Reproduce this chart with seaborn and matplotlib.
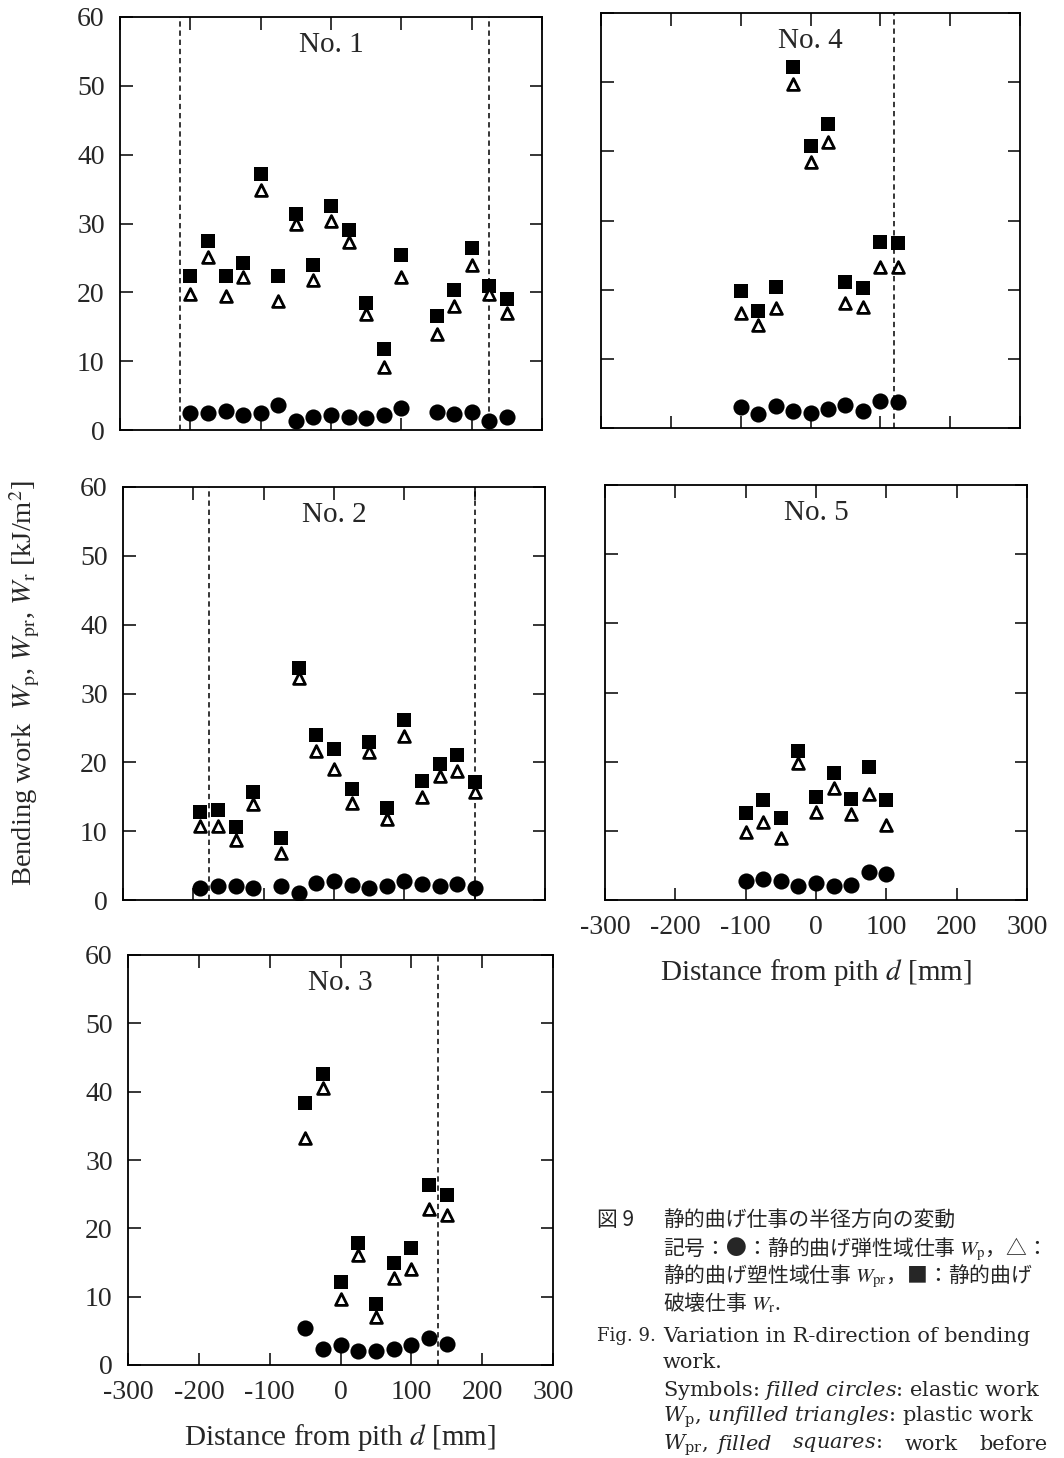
import matplotlib
matplotlib.use("Agg")
import matplotlib.pyplot as plt
import seaborn as sns
import pandas as pd

# ---- Bending work along the radial direction of five logs ----
# d: distance from pith [mm]; Wp: elastic work, Wpr: plastic work, Wr: work before rupture [kJ/m2]
d1 = [-200, -175, -150, -125, -100, -75, -50, -25, 0, 25, 50, 75, 100, 150, 175, 200, 225, 250]
wr1 = [22.4, 27.5, 22.4, 24.2, 37.2, 22.4, 31.4, 23.9, 32.5, 29.1, 18.5, 11.7, 25.4, 16.5, 20.4, 26.5, 20.9, 19.0]
wpr1 = [19.8, 25.2, 19.5, 22.2, 34.8, 18.7, 29.9, 21.8, 30.4, 27.3, 16.8, 9.1, 22.2, 14.0, 18.0, 23.9, 19.7, 17.0]
wp1 = [2.4, 2.4, 2.8, 2.2, 2.4, 3.6, 1.3, 1.9, 2.2, 1.9, 1.8, 2.2, 3.2, 2.6, 2.3, 2.6, 1.3, 1.9]
edge1 = [-214, 225]

d2 = [-190, -165, -140, -115, -75, -50, -25, 0, 25, 50, 75, 100, 125, 150, 175, 200]
wr2 = [12.8, 13.1, 10.6, 15.7, 9.0, 33.7, 23.9, 21.9, 16.1, 23.0, 13.4, 26.1, 17.3, 19.8, 21.0, 17.2]
wpr2 = [10.8, 10.8, 8.7, 13.9, 6.9, 32.3, 21.6, 19.1, 14.1, 21.5, 11.8, 23.8, 14.9, 18.0, 18.8, 15.7]
wp2 = [1.7, 2.0, 2.0, 1.7, 2.0, 1.0, 2.4, 2.8, 2.2, 1.7, 2.0, 2.7, 2.3, 2.0, 2.3, 1.7]
edge2 = [-178, 200]

d3 = [-50, -25, 0, 25, 50, 75, 100, 125, 150]
wr3 = [38.3, 42.6, 12.2, 17.9, 8.9, 15.0, 17.1, 26.3, 24.9]
wpr3 = [33.2, 40.5, 9.6, 16.1, 7.0, 12.7, 14.1, 22.8, 22.0]
wp3 = [5.4, 2.3, 2.9, 2.1, 2.1, 2.4, 2.9, 3.9, 3.1]
edge3 = [137]

d4 = [-100, -75, -50, -25, 0, 25, 50, 75, 100, 125]
wr4 = [19.8, 16.9, 20.4, 52.2, 40.8, 43.9, 21.1, 20.3, 26.9, 26.7]
wpr4 = [16.6, 14.9, 17.4, 49.8, 38.4, 41.3, 18.1, 17.5, 23.3, 23.3]
wp4 = [3.0, 2.0, 3.2, 2.5, 2.2, 2.7, 3.3, 2.5, 3.9, 3.7]
edge4 = [120]

d5 = [-100, -75, -50, -25, 0, 25, 50, 75, 100]
wr5 = [12.6, 14.5, 11.8, 21.6, 14.9, 18.3, 14.6, 19.3, 14.4]
wpr5 = [9.8, 11.3, 8.9, 19.8, 12.7, 16.2, 12.4, 15.3, 10.8]
wp5 = [2.8, 3.1, 2.8, 2.0, 2.5, 2.0, 2.2, 4.1, 3.8]
edge5 = []

x_ticks = [-300, -200, -100, 0, 100, 200, 300]
y_ticks = [0, 10, 20, 30, 40, 50, 60]
x_label = "Distance from pith $d$ [mm]"
y_label = r"Bending work  $W_{\mathrm{p}}$, $W_{\mathrm{pr}}$, $W_{\mathrm{r}}$ [kJ/m$^{2}$]"

sns.set_style("ticks")
plt.rcParams["font.family"] = ["Liberation Serif", "DejaVu Serif"]
plt.rcParams["mathtext.fontset"] = "stix"
plt.rcParams["axes.linewidth"] = 1.3

W, H = 1064, 1458
fig = plt.figure(figsize=(W / 100, H / 100), dpi=100)


def px_axes(left, top, right, bottom):
    return fig.add_axes([left / W, 1 - bottom / H, (right - left) / W, (bottom - top) / H])


def draw_panel(ax, d, wp, wpr, wr, edges, title, show_x, show_y):
    df = pd.DataFrame({"d": d, "Wp": wp, "Wpr": wpr, "Wr": wr})
    for e in edges:
        ax.axvline(e, color="black", lw=1.1, ls=(0, (3.5, 2.5)), zorder=2)
    sns.scatterplot(data=df, x="d", y="Wr", marker="s", s=100, color="black",
                    linewidth=0, ax=ax, zorder=3, legend=False)
    sns.scatterplot(data=df, x="d", y="Wpr", marker="^", s=72, color="white",
                    edgecolor="black", linewidth=2.0, ax=ax, zorder=4, legend=False)
    sns.scatterplot(data=df, x="d", y="Wp", marker="o", s=135, color="black",
                    linewidth=0, ax=ax, zorder=3, legend=False)
    ax.set_xlim(-300, 300)
    ax.set_ylim(0, 60)
    ax.set_xticks(x_ticks)
    ax.set_yticks(y_ticks)
    ax.set_xticklabels([str(v) for v in x_ticks], family="Liberation Serif")
    ax.set_yticklabels([str(v) for v in y_ticks], family="Liberation Serif")
    ax.tick_params(direction="in", top=True, right=True, length=9, width=1.3,
                   labelsize=20, pad=11, labelbottom=show_x, labelleft=show_y)
    ax.set_xlabel(x_label if show_x else "", fontsize=21, labelpad=12)
    ax.set_ylabel("")
    for sp in ax.spines.values():
        sp.set_linewidth(1.3)
        sp.set_color("black")
    ax.text(0.5, 0.932, title, transform=ax.transAxes, ha="center", va="center", fontsize=21)


ax1 = px_axes(120, 17, 542, 430)
ax4 = px_axes(601, 13, 1020, 428)
ax2 = px_axes(123, 487, 545, 900)
ax5 = px_axes(605, 485, 1027, 900)
ax3 = px_axes(128, 955, 553, 1365)

draw_panel(ax1, d1, wp1, wpr1, wr1, edge1, "No. 1", False, True)
draw_panel(ax4, d4, wp4, wpr4, wr4, edge4, "No. 4", False, False)
draw_panel(ax2, d2, wp2, wpr2, wr2, edge2, "No. 2", False, True)
draw_panel(ax5, d5, wp5, wpr5, wr5, edge5, "No. 5", True, False)
draw_panel(ax3, d3, wp3, wpr3, wr3, edge3, "No. 3", True, True)

fig.text(25 / W, 1 - 683 / H, y_label, rotation=90, ha="center", va="center", fontsize=20.5)

# ---- figure caption (Japanese and English) ----
cjk = ["Noto Sans CJK JP", "DejaVu Sans"]
ser = ["DejaVu Serif"]
cap_size_jp = 15
cap_size_en = 15


def fy(y):
    return 1 - y / H


fig.text(597 / W, fy(1220), "図 9", family=cjk, fontsize=cap_size_jp, va="center")
jp_lines = [
    (1220, "静的曲げ仕事の半径方向の変動"),
    (1249, r"記号：●：静的曲げ弾性域仕事 $W_{\mathrm{p}}$，△："),
    (1276, r"静的曲げ塑性域仕事 $W_{\mathrm{pr}}$，■：静的曲げ"),
    (1303, r"破壊仕事 $W_{\mathrm{r}}$."),
]
for y, s in jp_lines:
    fig.text(663 / W, fy(y), s, family=cjk, fontsize=cap_size_jp, va="center")

fig.text(597 / W, fy(1336), "Fig. 9.", family=ser, fontsize=13, va="center")
en_lines = [
    (1336, "Variation in R-direction of bending"),
    (1363, "work."),
    (1390, r"Symbols: $\mathit{filled\ circles}$: elastic work"),
    (1417, r"$W_{\mathrm{p}}$, $\mathit{unfilled\ triangles}$: plastic work"),
]
for y, s in en_lines:
    fig.text(663 / W, fy(y), s, family=ser, fontsize=cap_size_en, va="center",
             math_fontfamily="dejavuserif")

last_words = [(663, "left", r"$W_{\mathrm{pr}}$,"), (716, "left", r"$\mathit{filled}$"),
              (792, "left", r"$\mathit{squares}$:"), (905, "left", "work"),
              (1048, "right", "before")]
for x, ha, s in last_words:
    fig.text(x / W, fy(1445), s, family=ser, fontsize=cap_size_en, va="center", ha=ha,
             math_fontfamily="dejavuserif")

fig.savefig("out.png", dpi=100)
